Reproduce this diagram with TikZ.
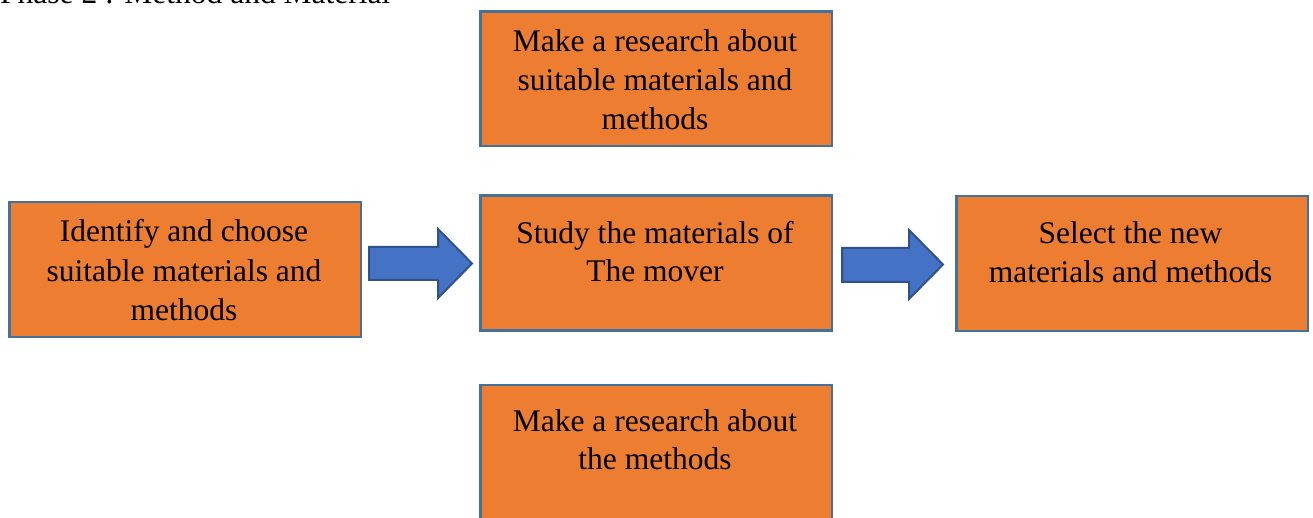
\documentclass[tikz,border=0pt]{standalone}
\usepackage{fontspec}
\setmainfont{Liberation Serif}
\definecolor{boxfill}{HTML}{ED7D31}
\definecolor{boxline}{HTML}{41719C}
\definecolor{arrfill}{HTML}{4472C4}
\definecolor{arrline}{HTML}{2F528F}
\tikzset{
  procbox/.style={draw=boxline, fill=boxfill, line width=2.5pt, inner sep=0pt,
    minimum width=351.5pt, minimum height=134.5pt, anchor=north west},
  blockarrow/.style={draw=arrline, fill=arrfill, line width=2pt, line join=miter},
  txt/.style={anchor=base, inner sep=0pt, font=\fontsize{31.5}{39.5}\selectfont},
}
\begin{document}
\begin{tikzpicture}[x=1pt,y=-1pt]
\useasboundingbox (0,0) rectangle (1313,518);
\clip (0,0) rectangle (1313,518);
\fill[white] (0,0) rectangle (1313,518);
\node[txt, anchor=base west] (title) at (0,4) {Phase 2 : Method and Material};

% boxes
\node[procbox] (topbox) at (479.25,10.25) {};
\node[procbox] (leftbox) at (8.25,201) {};
\node[procbox] (midbox) at (479.25,194.5) {};
\node[procbox] (rightbox) at (955.25,195) {};
\node[procbox] (botbox) at (479.25,383.5) {};

% block arrows
\draw[blockarrow] (369,247) -- (438,247) -- (438,229) -- (472,263.5) -- (438,298) -- (438,280) -- (369,280) -- cycle;
\draw[blockarrow] (842,248) -- (909,248) -- (909,230) -- (943,264.5) -- (909,299) -- (909,282) -- (842,282) -- cycle;

% texts
\node[txt] (t1) at (655,51.5) {Make a research about};
\node[txt] (t2) at (655,90.5) {suitable materials and};
\node[txt] (t3) at (655,129.5) {methods};

\node[txt] (l1) at (184,241.5) {Identify and choose};
\node[txt] (l2) at (184,282) {suitable materials and};
\node[txt] (l3) at (184,320.5) {methods};

\node[txt] (m1) at (655,243.5) {Study the materials of};
\node[txt] (m2) at (655,282) {The mover};

\node[txt] (r1) at (1130.5,243.5) {Select the new};
\node[txt] (r2) at (1130.5,283) {materials and methods};

\node[txt] (b1) at (655,431.5) {Make a research about};
\node[txt] (b2) at (655,469.5) {the methods};
\end{tikzpicture}
\end{document}
